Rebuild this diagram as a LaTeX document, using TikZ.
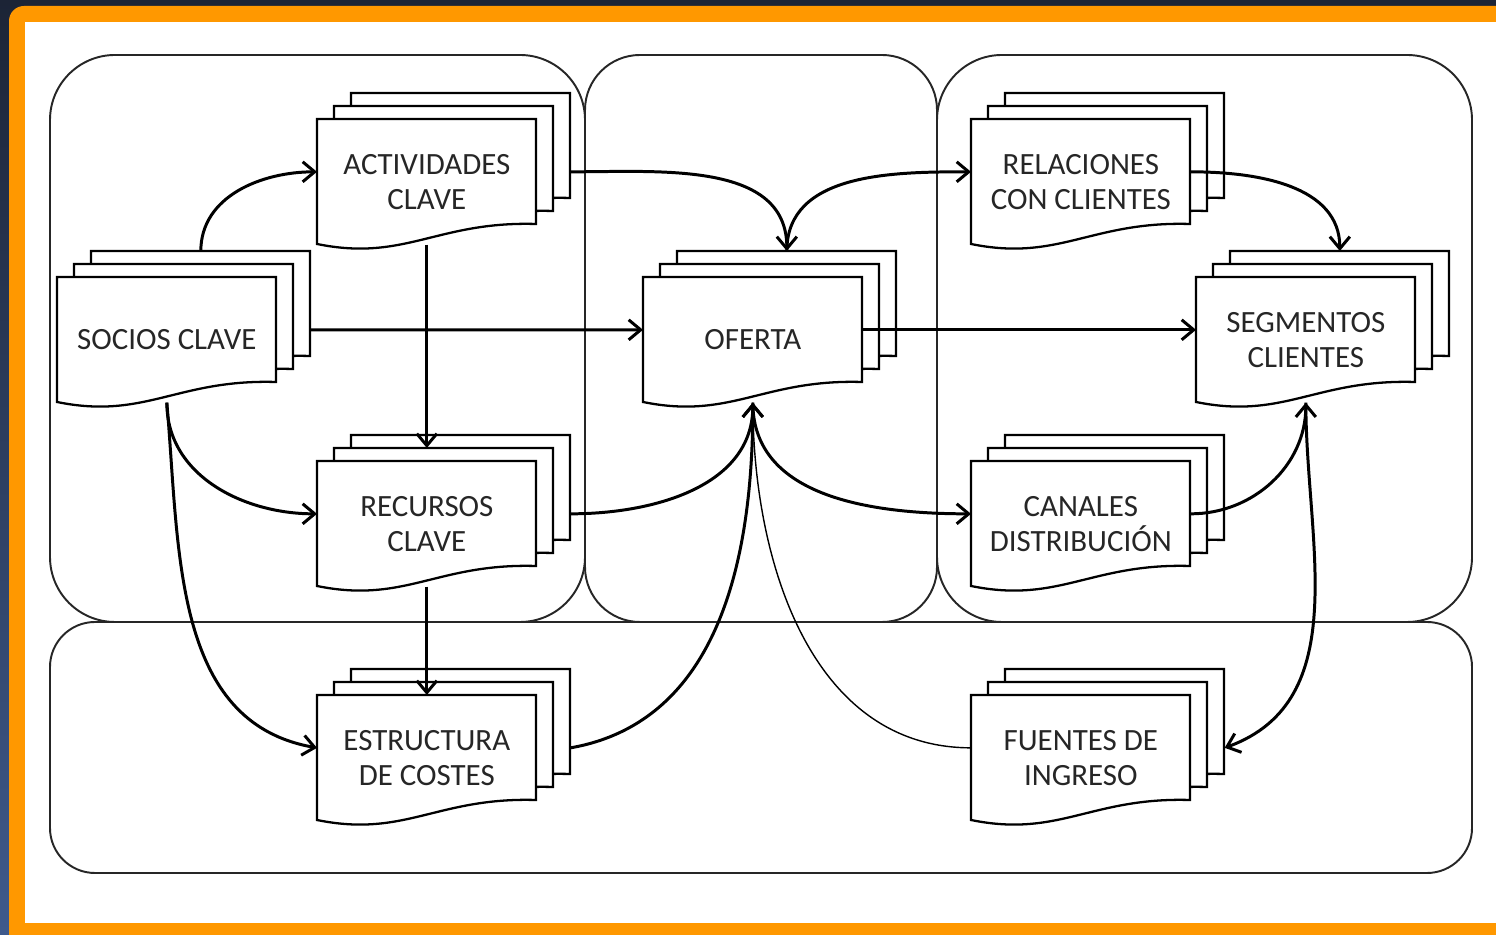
\documentclass[tikz,border=0pt]{standalone}
\usepackage{fontspec}
\setmainfont{Carlito}
\usetikzlibrary{arrows.meta}

\definecolor{navytop}{HTML}{1C2436}
\definecolor{navybottom}{HTML}{3F5A8C}
\definecolor{frameorange}{HTML}{FF9800}
\definecolor{ink}{HTML}{262626}

\tikzset{
  card/.style={anchor=north west, minimum width=4.38cm, minimum height=2.5cm,
    inner sep=0pt, align=center, text=ink, font=\fontsize{17.6}{20}\selectfont},
  sheet/.style={draw=black, line width=1.3pt, fill=white},
  block/.style={draw=black!85, line width=1.1pt, rounded corners=1.3cm},
  flow/.style={line width=1.7pt, -{Straight Barb[length=2.4mm,width=4mm]}},
  thinflow/.style={line width=0.8pt},
}

% three sheets, front one with its top left corner at #2
\newcommand{\pile}[3]{%
  \foreach \d in {2,1,0}
    \draw[sheet, shift={(#2)}, shift={(17*\d,13*\d)}] (0,0) -- (219,0) -- (219,-105)
      .. controls (120,-102) and (88,-143) .. (0,-125) -- cycle;
  \node[card] (#1) at (#2) {#3};
}

\begin{document}
\begin{tikzpicture}[x=0.02cm, y=0.02cm]
  \useasboundingbox (0,0) rectangle (1496,935);
  \clip (0,0) rectangle (1496,935);

  % frame
  \shade[top color=navytop, bottom color=navybottom] (0,0) rectangle (1496,935);
  \fill[frameorange, rounded corners=0.3cm] (9,-40) rectangle (1540,929);
  \fill[white] (25,12) rectangle (1540,913);

  % blocks
  \draw[block] (50,313) rectangle (585,880);
  \draw[block, rounded corners=1.1cm] (585,313) rectangle (937,880);
  \draw[block] (937,313) rectangle (1472,880);
  \draw[block, rounded corners=0.9cm] (50,62) rectangle (1472,313);

  % sheets
  \pile{socios}{57,658}{SOCIOS CLAVE}
  \pile{activ}{317,816}{ACTIVIDADES\\CLAVE}
  \pile{recursos}{317,474}{RECURSOS\\CLAVE}
  \pile{estructura}{317,240}{ESTRUCTURA\\DE COSTES}
  \pile{oferta}{643,658}{OFERTA}
  \pile{relaciones}{971,816}{RELACIONES\\CON CLIENTES}
  \pile{segmentos}{1196,658}{SEGMENTOS\\CLIENTES}
  \pile{canales}{971,474}{CANALES\\DISTRIBUCIÓN}
  \pile{fuentes}{971,240}{FUENTES DE\\INGRESO}

  % connectors
  \path[flow] ([shift={(34,26)}]socios.north) edge[out=90, in=180] ([yshift=2mm]activ.west)
        ([shift={(34,10)}]socios.east) edge ([yshift=2mm]oferta.west)
        (socios.south) edge[out=-90, in=180] ([yshift=2mm]recursos.west)
        (socios.south) edge[out=-85, in=170] ([yshift=2mm]estructura.west)
        (activ.south) edge ([shift={(0,13)}]recursos.north)
        (recursos.south) edge (estructura.north)
        ([shift={(34,10)}]activ.east) edge[out=0, in=90] ([shift={(34,26)}]oferta.north)
        ([shift={(34,26)}]oferta.north) edge[out=90, in=180] ([yshift=2mm]relaciones.west)
        ([yshift=2mm]oferta.east) edge ([yshift=2mm]segmentos.west)
        ([yshift=2mm]relaciones.east) edge[out=0, in=90] ([shift={(34,26)}]segmentos.north)
        ([shift={(34,10)}]recursos.east) edge[out=0, in=-90] (oferta.south)
        ([shift={(34,10)}]estructura.east) edge[out=10, in=-90] (oferta.south)
        (oferta.south) edge[out=-90, in=180] ([yshift=2mm]canales.west)
        ([yshift=2mm]canales.east) edge[out=0, in=-90] (segmentos.south)
        (segmentos.south) edge[out=-90, in=20] ([shift={(34,10)}]fuentes.east)
  ;
  \draw[thinflow] ([yshift=2mm]fuentes.west) to[out=180, in=-90] (oferta.south);
\end{tikzpicture}
\end{document}
